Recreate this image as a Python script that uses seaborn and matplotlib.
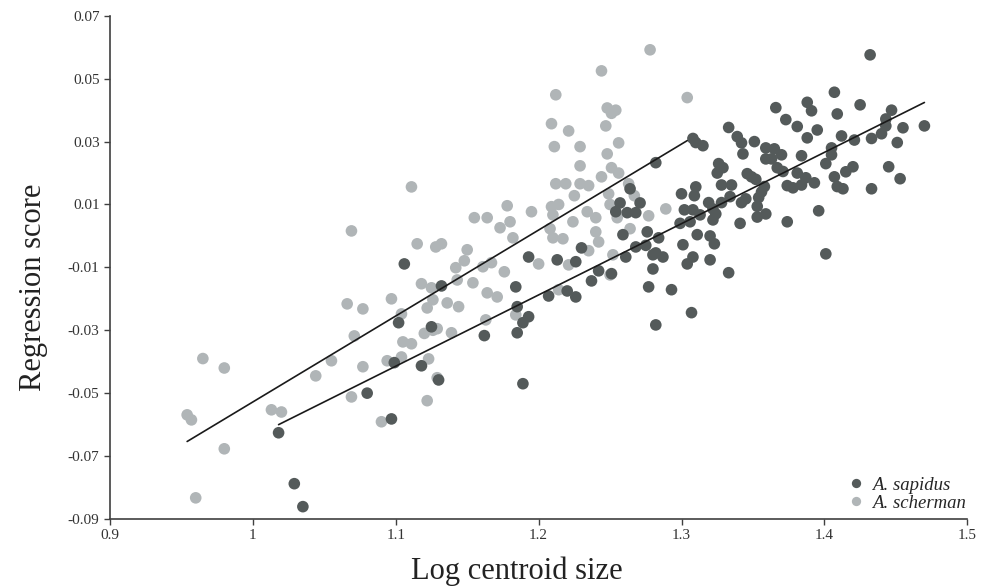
import numpy as np
import pandas as pd
import matplotlib
matplotlib.use("Agg")
import matplotlib.pyplot as plt
import seaborn as sns

# A. scherman (light grey)
scherman_x = [0.954, 0.957, 0.960, 0.965, 0.980, 0.980, 1.013, 1.020, 1.044, 1.055,
              1.066, 1.069, 1.069, 1.071, 1.077, 1.077, 1.090, 1.094, 1.097,
              1.104, 1.104, 1.105, 1.111, 1.111, 1.115, 1.118, 1.120, 1.122, 1.122,
              1.123, 1.125, 1.126, 1.126, 1.128, 1.129, 1.129, 1.132, 1.136, 1.139,
              1.142, 1.143, 1.144, 1.148, 1.150,
              1.154, 1.155, 1.161, 1.163, 1.164, 1.164, 1.167, 1.171, 1.173, 1.176,
              1.178, 1.180, 1.182, 1.184, 1.195, 1.200,
              1.208, 1.209, 1.209, 1.210, 1.210, 1.211, 1.212, 1.212, 1.214, 1.214,
              1.217, 1.219, 1.221, 1.221, 1.224, 1.225, 1.229, 1.229, 1.229, 1.234,
              1.235, 1.235, 1.240, 1.240, 1.242, 1.244, 1.244, 1.247, 1.248, 1.248,
              1.249, 1.250, 1.250,
              1.251, 1.251, 1.252, 1.254, 1.255, 1.256, 1.256, 1.263, 1.264, 1.267,
              1.277, 1.278, 1.289, 1.304]
scherman_y = [-0.0569, -0.0585, -0.0833, -0.0390, -0.0420, -0.0677, -0.0553, -0.0560, -0.0445, -0.0397,
              -0.0216, 0.0016, -0.0512, -0.0318, -0.0232, -0.0416, -0.0591, -0.0397, -0.0200,
              -0.0248, -0.0385, -0.0337, -0.0343, 0.0156, -0.0025, -0.0152, -0.0310, -0.0229, -0.0524,
              -0.0391, -0.0165, -0.0203, -0.0300, -0.0035, -0.0295, -0.0451, -0.0025, -0.0213, -0.0308,
              -0.0101, -0.0140, -0.0225, -0.0079, -0.0044,
              -0.0149, 0.0058, -0.0098, -0.0267, 0.0058, -0.0181, -0.0085, -0.0194, 0.0026, -0.0114,
              0.0096, 0.0045, -0.0006, -0.0251, 0.0077, -0.0089,
              0.0023, 0.0357, 0.0093, -0.0006, 0.0067, 0.0284, 0.0449, 0.0166, 0.0100, -0.0171,
              -0.0009, 0.0166, 0.0334, -0.0092, 0.0045, 0.0128, 0.0284, 0.0223, 0.0166, 0.0077,
              0.0160, -0.0047, 0.0058, 0.0013, -0.0019, 0.0525, 0.0188, 0.0350, 0.0407, 0.0261,
              0.0134, 0.0100, -0.0124,
              0.0390, 0.0217, -0.0060, 0.0400, 0.0058, 0.0296, 0.0200, 0.0166, 0.0023, 0.0128,
              0.0064, 0.0592, 0.0086, 0.0440]

# A. sapidus (dark grey)
sapidus_x = [1.018, 1.029, 1.035, 1.080, 1.097, 1.099, 1.102, 1.106, 1.118, 1.125,
             1.130, 1.132, 1.162, 1.184, 1.185, 1.185, 1.189, 1.189, 1.193, 1.193,
             1.207, 1.213, 1.220, 1.226, 1.226, 1.230, 1.237, 1.242, 1.251, 1.254,
             1.257, 1.259, 1.261, 1.262, 1.264, 1.268, 1.268, 1.271, 1.275, 1.276,
             1.277, 1.280, 1.280, 1.282, 1.282, 1.282, 1.284, 1.287, 1.293,
             1.299, 1.300, 1.301, 1.302, 1.304, 1.306, 1.307, 1.308, 1.308, 1.308,
             1.309, 1.310, 1.310, 1.311, 1.313, 1.315, 1.319, 1.320, 1.320, 1.322,
             1.322, 1.323, 1.324, 1.325, 1.326, 1.328, 1.328, 1.329, 1.333, 1.333,
             1.334, 1.335, 1.339, 1.341, 1.342, 1.342, 1.343, 1.345, 1.346, 1.349,
             1.351, 1.352, 1.353, 1.353, 1.354, 1.356, 1.358, 1.359, 1.359, 1.359,
             1.363, 1.365, 1.366, 1.367, 1.370, 1.371, 1.373, 1.374, 1.374, 1.378,
             1.381, 1.381, 1.384, 1.384, 1.387, 1.388, 1.388, 1.391, 1.393, 1.395,
             1.396, 1.401, 1.401, 1.405, 1.405, 1.407, 1.407, 1.409, 1.409, 1.412,
             1.413, 1.415, 1.420, 1.421, 1.425, 1.432, 1.433, 1.433, 1.440, 1.443,
             1.443, 1.445, 1.447, 1.451, 1.453, 1.455, 1.470]
sapidus_y = [-0.0626, -0.0788, -0.0861, -0.0500, -0.0582, -0.0403, -0.0276, -0.0089, -0.0413, -0.0289,
             -0.0458, -0.0159, -0.0317, -0.0162, -0.0225, -0.0308, -0.0470, -0.0276, -0.0257, -0.0067,
             -0.0191, -0.0076, -0.0175, -0.0082, -0.0194, -0.0038, -0.0143, -0.0111, -0.0120, 0.0077,
             0.0105, 0.0004, -0.0067, 0.0074, 0.0150, 0.0074, -0.0035, 0.0105, -0.0030, 0.0013,
             -0.0162, -0.0060, -0.0105, 0.0233, -0.0054, -0.0283, -0.0006, -0.0067, -0.0171,
             0.0040, 0.0134, -0.0028, 0.0083, -0.0089, 0.0045, -0.0244, 0.0310, 0.0083, -0.0067,
             0.0128, 0.0297, 0.0156, 0.0004, 0.0067, 0.0287, 0.0106, 0.0000, -0.0076, 0.0086,
             0.0051, -0.0025, 0.0070, 0.0200, 0.0230, 0.0162, 0.0106, 0.0217, 0.0345, -0.0117,
             0.0125, 0.0162, 0.0316, 0.0040, 0.0296, 0.0106, 0.0261, 0.0118, 0.0198, 0.0188,
             0.0300, 0.0180, 0.0094, 0.0060, 0.0122, 0.0140, 0.0157, 0.0280, 0.0245, 0.0070,
             0.0245, 0.0277, 0.0408, 0.0217, 0.0258, 0.0205, 0.0370, 0.0160, 0.0045, 0.0153,
             0.0348, 0.0200, 0.0255, 0.0162, 0.0185, 0.0425, 0.0312, 0.0398, 0.0169, 0.0337,
             0.0080, 0.0230, -0.0057, 0.0280, 0.0258, 0.0457, 0.0188, 0.0388, 0.0157, 0.0318,
             0.0150, 0.0204, 0.0220, 0.0305, 0.0417, 0.0576, 0.0310, 0.0150, 0.0325, 0.0372,
             0.0350, 0.0220, 0.0400, 0.0297, 0.0182, 0.0344, 0.0350]

# regression lines (slope, intercept)
fits = {"A. scherman": (0.2734, -0.3262), "A. sapidus": (0.2267, -0.2908)}

species = ["A. sapidus", "A. scherman"]
colors = {"A. sapidus": "#545a5a", "A. scherman": "#b0b5b7"}

x_ticks = [0.9, 1.0, 1.1, 1.2, 1.3, 1.4, 1.5]
x_ticklabels = ["0.9", "1", "1.1", "1.2", "1.3", "1.4", "1.5"]
y_ticks = [-0.09, -0.07, -0.05, -0.03, -0.01, 0.01, 0.03, 0.05, 0.07]
y_ticklabels = ["-0.09", "-0.07", "-0.05", "-0.03", "-0.01", "0.01", "0.03", "0.05", "0.07"]

df = pd.concat([
    pd.DataFrame({"size": scherman_x, "score": scherman_y, "species": "A. scherman"}),
    pd.DataFrame({"size": sapidus_x, "score": sapidus_y, "species": "A. sapidus"}),
], ignore_index=True)

sns.set_theme(style="white")
plt.rcParams["font.family"] = ["Liberation Serif", "DejaVu Serif"]

fig = plt.figure(figsize=(9.82, 5.87), dpi=100)
ax = fig.add_axes([0.112, 0.116, 0.873, 0.857])

sns.scatterplot(data=df, x="size", y="score", hue="species", hue_order=species,
                palette=colors, s=70, linewidth=0, alpha=1, ax=ax, zorder=2)

for sp in ["A. scherman", "A. sapidus"]:
    sub = df[df["species"] == sp]
    slope, icpt = fits[sp]
    xs = np.array([sub["size"].min(), sub["size"].max()])
    ax.plot(xs, slope * xs + icpt, color="#1a1a1a", lw=1.2, zorder=3)

ax.set_xlim(0.9, 1.5)
ax.set_ylim(-0.09, 0.07)
ax.set_xticks(x_ticks)
ax.set_xticklabels(x_ticklabels)
ax.set_yticks(y_ticks)
ax.set_yticklabels(y_ticklabels)
ax.tick_params(axis="both", direction="out", length=4, width=1, color="#404040",
               labelsize=11, labelcolor="#333333", left=True, bottom=True)
for side in ["top", "right"]:
    ax.spines[side].set_visible(False)
for side in ["left", "bottom"]:
    ax.spines[side].set_color("#404040")
    ax.spines[side].set_linewidth(1.2)

ax.set_xlabel("Log centroid size", fontsize=22, color="#222222")
ax.set_ylabel("Regression score", fontsize=22, color="#222222")
ax.xaxis.set_label_coords(0.475, -0.075)
ax.yaxis.set_label_coords(-0.072, 0.46)

leg = ax.legend(loc="lower right", bbox_to_anchor=(1.012, -0.008), frameon=False,
                prop={"style": "italic", "size": 13.5}, handlelength=1.0,
                handletextpad=0.35, labelspacing=0.05, borderaxespad=0.2,
                markerscale=0.8)

fig.savefig("out.png", dpi=100)
